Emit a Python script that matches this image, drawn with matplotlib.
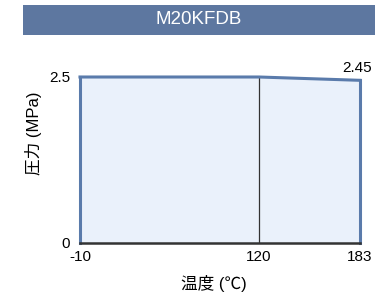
import numpy as np
import matplotlib
matplotlib.use("Agg")
import matplotlib.pyplot as plt
from matplotlib.patches import Rectangle

plt.rcParams['font.family'] = ['Liberation Sans', 'Noto Sans CJK JP', 'DejaVu Sans']

title = "M20KFDB"
temps = [-10, 120, 183]
pressure = [2.5, 2.5, 2.45]
xticks = [-10, 120, 183]
yticks = [0, 2.5]
end_label = "2.45"

# x axis is not linear in the original: spacing follows the tick positions
pos = [0, 179, 280]
fwd = lambda x: np.interp(x, temps, pos)
inv = lambda p: np.interp(p, pos, temps)

fig = plt.figure(figsize=(3.85, 2.95), dpi=100)
fig.patches.append(Rectangle((23/385, 1-35/295), 352/385, 30/295, transform=fig.transFigure,
                             facecolor='#5d77a0', edgecolor='none'))
fig.text(199/385, 1-20/295, title, color='white', fontsize=13.5, ha='center', va='center')

ax = fig.add_axes([80/385, 52/295, 280/385, 166/295])
ax.set_xscale('function', functions=(fwd, inv))
ax.set_xlim(-10, 183)
ax.set_ylim(0, 2.5)

ax.fill_between(temps, pressure, 0, color='#eaf1fb', zorder=1)
ax.plot([temps[0], temps[0]], [0, pressure[0]], color='#5a7bab', lw=2.2, clip_on=False, zorder=3)
ax.plot([temps[-1], temps[-1]], [0, pressure[-1]], color='#5a7bab', lw=2.2, clip_on=False, zorder=3)
ax.plot(temps, pressure, color='#5a7bab', lw=2.2, clip_on=False, zorder=3)
ax.plot([120, 120], [0, 2.5], color='#333333', lw=0.9, zorder=2)
ax.plot([temps[0], temps[-1]], [0, 0], color='#333333', lw=1.8, clip_on=False, zorder=4)

for s in ax.spines.values():
    s.set_visible(False)
ax.set_facecolor('none')
ax.set_xticks(xticks)
ax.set_xticklabels([str(t) for t in xticks])
ax.set_yticks(yticks)
ax.set_yticklabels(['0', '2.5'])
ax.tick_params(length=0, labelsize=11)
ax.tick_params(axis='x', pad=5)
ax.tick_params(axis='y', pad=7)

ax.text(181, 2.53, end_label, fontsize=11, ha='center', va='bottom', clip_on=False)

fig.text(33/385, 162/295, "圧力 (MPa)", rotation=90, fontsize=12, ha='center', va='center')
fig.text(214/385, 1-283/295, "温度 (℃)", fontsize=12, ha='center', va='center')

fig.savefig("out.png", dpi=100)
